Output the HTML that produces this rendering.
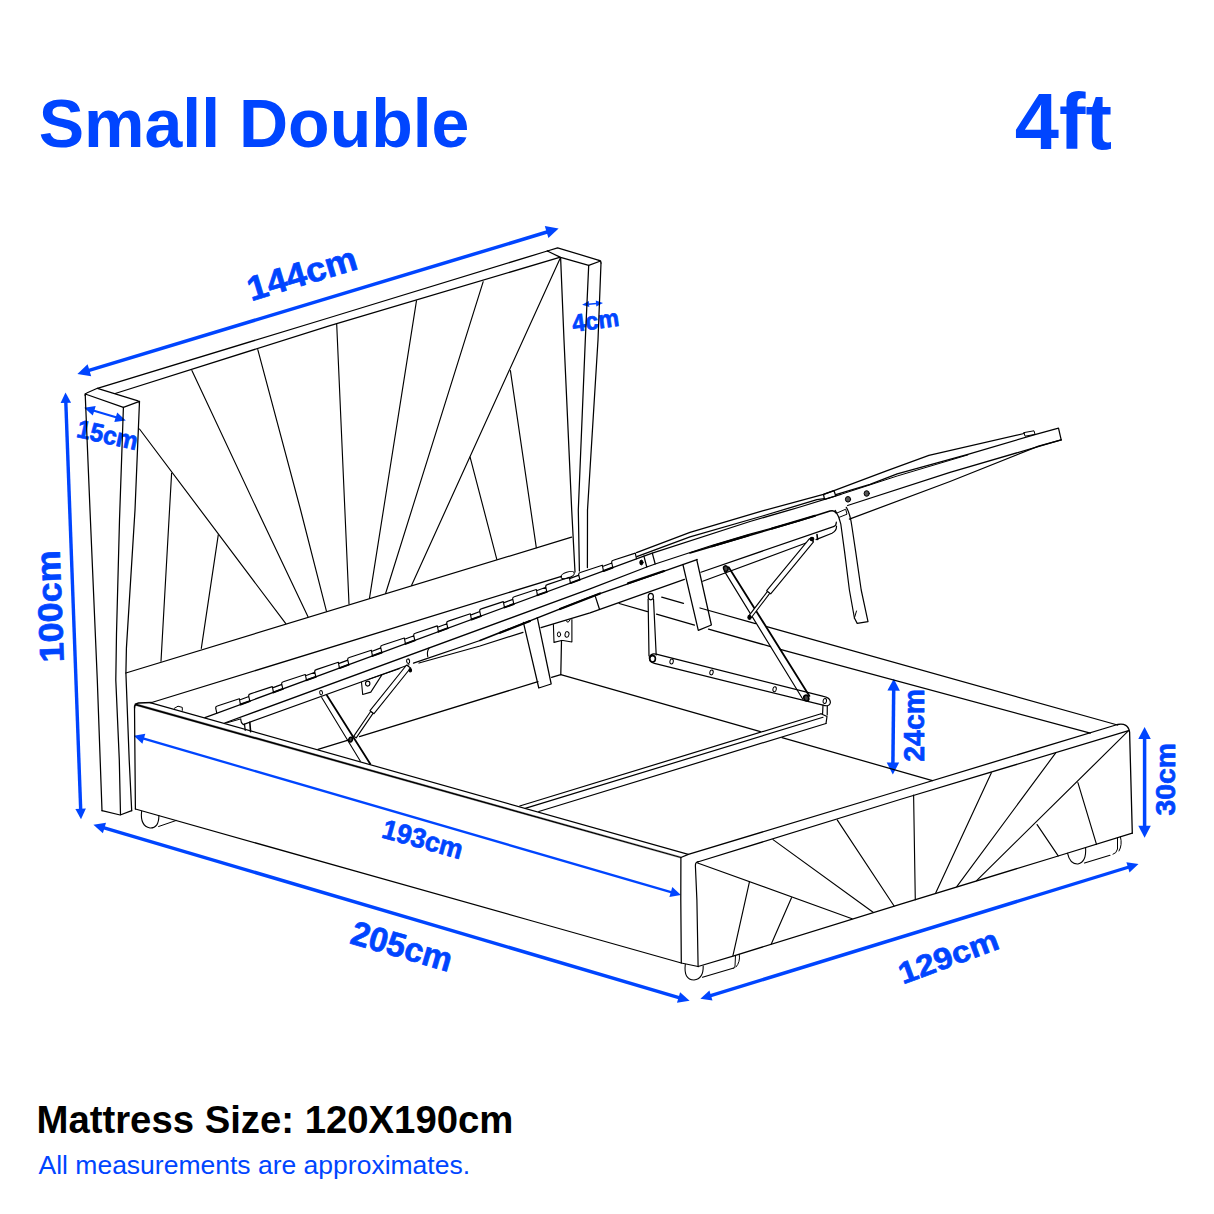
<!DOCTYPE html>
<html><head><meta charset="utf-8"><title>Small Double 4ft</title>
<style>
html,body{margin:0;padding:0;background:#fff;}
body{width:1214px;height:1214px;position:relative;overflow:hidden;font-family:"Liberation Sans",sans-serif;}
.t{position:absolute;white-space:nowrap;line-height:1;margin:0;}
#h1{left:38.7px;top:89px;font-size:68px;font-weight:bold;color:#0045ff;}
#h2{left:1014.8px;top:82.2px;font-size:79.5px;font-weight:bold;color:#0045ff;}
#m1{left:36.5px;top:1101.2px;font-size:38.3px;font-weight:bold;color:#000;}
#m2{left:38.5px;top:1151.8px;font-size:26.5px;color:#0045ff;}
svg{position:absolute;left:0;top:0;}
svg text{font-family:"Liberation Sans",sans-serif;}
</style></head><body>
<div class="t" id="h1">Small Double</div>
<div class="t" id="h2">4ft</div>
<svg width="1214" height="1214" viewBox="0 0 1214 1214">
<g>
<line x1="88.2" y1="370.6" x2="547.8" y2="231.8" stroke="#0045ff" stroke-width="3.5"/>
<polygon points="77.4,373.9 91.2,376.3 87.6,364.3" fill="#0045ff"/>
<polygon points="558.6,228.5 548.4,238.1 544.8,226.1" fill="#0045ff"/>
<line x1="65.8" y1="401.8" x2="80.7" y2="809.9" stroke="#0045ff" stroke-width="3.4"/>
<polygon points="65.5,392.4 60.6,403.1 71.1,402.7" fill="#0045ff"/>
<polygon points="81.0,819.3 75.4,809.0 85.9,808.6" fill="#0045ff"/>
<line x1="93.2" y1="410.5" x2="116.8" y2="417.6" stroke="#0045ff" stroke-width="2.1"/>
<polygon points="84.2,407.7 92.8,415.5 95.7,406.0" fill="#0045ff"/>
<polygon points="125.8,420.4 114.3,422.1 117.2,412.6" fill="#0045ff"/>
<line x1="588.4" y1="304.2" x2="596.7" y2="303.4" stroke="#0045ff" stroke-width="1.5"/>
<polygon points="582.1,304.7 589.3,307.1 588.8,301.1" fill="#0045ff"/>
<polygon points="603.0,302.9 596.3,306.5 595.8,300.5" fill="#0045ff"/>
<line x1="142.9" y1="738.4" x2="671.8" y2="892.4" stroke="#0045ff" stroke-width="2.3"/>
<polygon points="133.8,735.8 142.4,743.8 145.3,733.7" fill="#0045ff"/>
<polygon points="680.9,895.0 669.4,897.1 672.3,887.0" fill="#0045ff"/>
<line x1="103.3" y1="827.6" x2="679.7" y2="997.9" stroke="#0045ff" stroke-width="3.5"/>
<polygon points="93.4,824.7 102.9,833.2 106.0,822.7" fill="#0045ff"/>
<polygon points="689.6,1000.8 677.0,1002.8 680.1,992.3" fill="#0045ff"/>
<line x1="709.9" y1="995.9" x2="1129.0" y2="867.0" stroke="#0045ff" stroke-width="3.4"/>
<polygon points="700.4,998.8 712.5,1000.6 709.4,990.5" fill="#0045ff"/>
<polygon points="1138.5,864.1 1129.5,872.4 1126.4,862.3" fill="#0045ff"/>
<line x1="893.7" y1="689.5" x2="892.9" y2="763.7" stroke="#0045ff" stroke-width="3.5"/>
<polygon points="893.8,678.7 887.4,690.6 899.9,690.8" fill="#0045ff"/>
<polygon points="892.8,774.5 886.7,762.4 899.2,762.6" fill="#0045ff"/>
<line x1="1144.6" y1="737.8" x2="1144.6" y2="826.9" stroke="#0045ff" stroke-width="3.5"/>
<polygon points="1144.6,727.0 1138.3,739.0 1150.8,739.0" fill="#0045ff"/>
<polygon points="1144.6,837.7 1138.3,825.7 1150.8,825.7" fill="#0045ff"/>
<text transform="translate(301.70 273.10) rotate(-16.8) scale(1.054 1)" font-size="34.36" font-weight="bold" text-anchor="middle" y="12.30" fill="#0045ff" stroke="#0045ff" stroke-width="0.7" stroke-linejoin="round">144cm</text>
<text transform="translate(49.50 606.50) rotate(-92) scale(1.054 1)" font-size="34.11" font-weight="bold" text-anchor="middle" y="12.21" fill="#0045ff" stroke="#0045ff" stroke-width="0.7" stroke-linejoin="round">100cm</text>
<text transform="translate(107.60 434.60) rotate(12.5) scale(0.944 1)" font-size="25.60" font-weight="bold" text-anchor="middle" y="9.17" fill="#0045ff" stroke="#0045ff" stroke-width="0.7" stroke-linejoin="round">15cm</text>
<text transform="translate(595.40 320.10) rotate(-7.8) scale(0.960 1)" font-size="24.46" font-weight="bold" text-anchor="middle" y="8.76" fill="#0045ff" stroke="#0045ff" stroke-width="0.7" stroke-linejoin="round">4cm</text>
<text transform="translate(422.90 838.80) rotate(15.5) scale(0.970 1)" font-size="27.35" font-weight="bold" text-anchor="middle" y="9.79" fill="#0045ff" stroke="#0045ff" stroke-width="0.7" stroke-linejoin="round">193cm</text>
<text transform="translate(402.00 945.80) rotate(16.3) scale(0.978 1)" font-size="34.05" font-weight="bold" text-anchor="middle" y="12.19" fill="#0045ff" stroke="#0045ff" stroke-width="0.7" stroke-linejoin="round">205cm</text>
<text transform="translate(948.20 956.10) rotate(-20.3) scale(1.104 1)" font-size="30.34" font-weight="bold" text-anchor="middle" y="10.86" fill="#0045ff" stroke="#0045ff" stroke-width="0.7" stroke-linejoin="round">129cm</text>
<text transform="translate(913.40 725.40) rotate(-90) scale(0.968 1)" font-size="29.30" font-weight="bold" text-anchor="middle" y="10.49" fill="#0045ff" stroke="#0045ff" stroke-width="0.7" stroke-linejoin="round">24cm</text>
<text transform="translate(1165.30 779.20) rotate(-90) scale(0.998 1)" font-size="28.41" font-weight="bold" text-anchor="middle" y="10.17" fill="#0045ff" stroke="#0045ff" stroke-width="0.7" stroke-linejoin="round">30cm</text>
</g>
<g fill="none" stroke="#000" stroke-linecap="round" stroke-linejoin="round">
<path d="M85.2,395.5 Q85.2,393.5 86.7,393 L97.4,388.3 L138.0,400.79999999999995 Q139.5,401.4 139.4,403.4" stroke-width="1.25" />
<path d="M85.2,394.0 L123.4,407.4 L139.5,401.4" stroke-width="1.25" />
<path d="M85.2,394.0 L90.0,510.0 L97.3,680.0 L102.0,810.7" stroke-width="1.25" />
<path d="M123.4,407.4 L119.5,520.0 L116.5,633.6 L115.8,680.0 L119.3,760.0 L120.5,814.6" stroke-width="1.25" />
<path d="M139.5,401.4 L135.0,510.0 L126.4,648.4 L125.9,673.0 L129.2,760.0 L131.7,810.7" stroke-width="1.25" />
<path d="M102.0,810.7 L120.2,815.0 L131.7,810.7" stroke-width="1.25" />
<path d="M97.4,388.3 L330.0,317.5 L547.3,251.0" stroke-width="1.25" />
<path d="M115.2,393.5 L330.0,325.6 L559.6,257.4" stroke-width="1.25" />
<path d="M547.3,251.0 L557.6,247.8 L599.0,260.3" stroke-width="1.25" />
<path d="M599,260.3 Q601.2,261 601,263" stroke-width="1.25" />
<path d="M547.3,251.0 L560.6,257.4 L588.7,265.4 L600.6,261.0" stroke-width="1.25" />
<path d="M560.6,257.4 L564.0,340.0 L571.7,510.0 L575.0,572.0" stroke-width="1.25" />
<path d="M588.7,265.4 L585.3,340.0 L578.3,510.0 L579.4,571.0" stroke-width="1.25" />
<path d="M601.0,263.0 L598.0,340.0 L587.5,510.0 L587.4,567.5" stroke-width="1.25" />
<path d="M125.9,673.0 L571.6,537.2" stroke-width="1.25" />
<path d="M139.5,429.0 L285.8,623.7" stroke-width="1.15" />
<path d="M171.6,473.2 L161.0,661.2" stroke-width="1.15" />
<path d="M218.3,534.7 L201.3,648.4" stroke-width="1.15" />
<path d="M191.9,370.6 L257.3,510.0 L308.0,616.8" stroke-width="1.15" />
<path d="M257.8,349.6 L300.6,510.0 L326.5,611.3" stroke-width="1.15" />
<path d="M336.7,324.2 L349.0,604.0" stroke-width="1.15" />
<path d="M416.5,300.7 L369.5,598.2" stroke-width="1.15" />
<path d="M483.2,281.7 L385.6,593.5" stroke-width="1.15" />
<path d="M560.3,258.0 L411.5,585.4" stroke-width="1.15" />
<path d="M510.4,370.6 L536.3,547.6" stroke-width="1.15" />
<path d="M470.1,457.1 L496.8,559.4" stroke-width="1.15" />
<path d="M134.6,708 Q134.4,704 138.5,703 L151.7,702.5 L561.4,576.3" stroke-width="1.3" />
<ellipse cx="567.6" cy="575.1" rx="7" ry="3" transform="rotate(-18 567.6 575.1)" stroke-width="1.1" fill="none"/>
<path d="M135.3,703.5 L681.2,856.9 L680.8,858.1 L134.8,705.2 Z" fill="#000" stroke-width="0.3"/>
<path d="M150.0,702.6 L688.3,854.4" stroke-width="1.2" />
<path d="M134.5,706.0 L135.4,809.0" stroke-width="1.25" />
<path d="M135.4,809.0 L360.0,872.4 L528.8,920.0 L681.3,963.0 L698.1,966.5" stroke-width="1.25" />
<path d="M680.9,857.5 L680.8,900.0 L681.3,963.0" stroke-width="1.25" />
<path d="M680.9,857.5 L688.3,854.4 L900,790.5 L1117.5,724.5 Q1128,722.5 1129.6,732 L1132.3,833.2" stroke-width="1.3" />
<path d="M697.6,862.0 L900.0,799.5 L1128.6,730.7" stroke-width="1.25" />
<path d="M698.5,861.7 Q695.2,862 695.4,866 L696.9,900 L698.1,966.5" stroke-width="1.2" />
<path d="M698.1,966.5 L734.7,955.6 L900.0,904.3 L1058.2,856.0 L1132.3,833.2" stroke-width="1.25" />
<path d="M913.6,795.0 L915.3,899.7" stroke-width="1.15" />
<path d="M697.6,863.0 L852.1,918.7" stroke-width="1.15" />
<path d="M749.5,881.6 L732.9,955.8" stroke-width="1.15" />
<path d="M791.5,897.7 L771.3,944.0" stroke-width="1.15" />
<path d="M773.0,839.6 L873.1,912.3" stroke-width="1.15" />
<path d="M837.2,819.9 L894.1,906.0" stroke-width="1.15" />
<path d="M991.4,772.7 L935.8,892.8" stroke-width="1.15" />
<path d="M1055.7,752.9 L956.8,886.6" stroke-width="1.15" />
<path d="M1128.6,730.7 L976.6,880.6" stroke-width="1.15" />
<path d="M1037.1,824.6 L1058.2,855.9" stroke-width="1.15" />
<path d="M1077.9,782.6 L1096.5,844.3" stroke-width="1.15" />
<path d="M661.7,597.2 L683.5,603.3" stroke-width="1.25" />
<path d="M700.0,608.0 L755.5,623.6" stroke-width="1.25" />
<path d="M765.8,626.4 L1117.5,725.0" stroke-width="1.25" />
<path d="M619.2,603.5 L647.5,611.7" stroke-width="1.25" />
<path d="M656.5,614.2 L694.5,625.2" stroke-width="1.25" />
<path d="M708.5,629.2 L770.6,646.6" stroke-width="1.25" />
<path d="M780.2,649.4 L1090.3,733.1" stroke-width="1.25" />
<path d="M318.0,749.4 L349.0,739.9" stroke-width="1.25" />
<path d="M359.5,736.6 L538.0,681.6" stroke-width="1.25" />
<path d="M551.6,677.4 L560.8,674.6" stroke-width="1.25" />
<path d="M560.8,674.6 L561.5,640.5" stroke-width="1.25" />
<path d="M560.8,674.6 L760.4,731.6" stroke-width="1.25" />
<path d="M782.0,737.6 L932.4,780.6" stroke-width="1.25" />
<path d="M216.8,713.2 L215.7,708.2 Q215.5,706.4 217.3,706.0 L239.3,698.7 L240.5,704.5 M239.5,700.0 L248.9,696.5 M249.8,701.1 L248.7,696.0 Q248.5,694.2 250.3,693.9 L272.3,686.6 L273.5,692.4 M272.5,687.9 L281.9,684.4 M282.8,688.9 L281.7,683.9 Q281.5,682.1 283.3,681.8 L305.3,674.5 L306.5,680.2 M305.5,675.8 L314.9,672.2 M315.8,676.8 L314.7,671.7 Q314.5,669.9 316.3,669.6 L338.3,662.3 L339.5,668.1 M338.5,663.6 L347.9,660.1 M348.8,664.7 L347.7,659.6 Q347.5,657.8 349.3,657.5 L371.3,650.2 L372.5,655.9 M371.5,651.5 L380.9,647.9 M381.8,652.5 L380.7,647.4 Q380.5,645.6 382.3,645.3 L404.3,638.0 L405.5,643.8 M404.5,639.3 L413.9,635.8 M414.8,640.4 L413.7,635.3 Q413.5,633.5 415.3,633.2 L437.3,625.9 L438.5,631.7 M437.5,627.2 L446.9,623.7 M447.8,628.2 L446.7,623.2 Q446.5,621.4 448.3,621.1 L470.3,613.8 L471.5,619.5 M470.5,615.1 L479.9,611.5 M480.8,616.1 L479.7,611.0 Q479.5,609.2 481.3,608.9 L503.3,601.6 L504.5,607.4 M503.5,602.9 L512.9,599.4 M513.8,604.0 L512.7,598.9 Q512.5,597.1 514.3,596.8 L536.3,589.5 L537.5,595.2 M536.5,590.8 L545.9,587.2 M546.8,591.8 L545.7,586.7 Q545.5,584.9 547.3,584.6 L569.3,577.3 L570.5,583.1 M569.5,578.6 L578.9,575.1 M579.8,579.7 L578.7,574.6 Q578.5,572.8 580.3,572.5 L602.3,565.2 L603.5,571.0 M602.5,566.5 L611.9,563.0 M612.8,567.5 L611.7,562.5 Q611.5,560.7 613.3,560.3 L635.3,553.1 L636.5,558.8 " stroke-width="1.15" />
<path d="M240.5,704.5 L249.8,701.1 M273.5,692.4 L282.8,688.9 M306.5,680.2 L315.8,676.8 M339.5,668.1 L348.8,664.7 M372.5,655.9 L381.8,652.5 M405.5,643.8 L414.8,640.4 M438.5,631.7 L447.8,628.2 M471.5,619.5 L480.8,616.1 M504.5,607.4 L513.8,604.0 M537.5,595.2 L546.8,591.8 M570.5,583.1 L579.8,579.7 M603.5,571.0 L612.8,567.5 " stroke-width="1.9" />
<path d="M174.4,708.3 L178.0,706.2 L182.3,707.4 L182.3,710.4" stroke-width="1" />
<path d="M204.9,717.6 L643.9,556.1" stroke-width="1.25" />
<path d="M224.7,723.0 L590.0,588.9 L646.8,567.0" stroke-width="1.25" />
<path d="M226.6,722.9 L240.8,718.9" stroke-width="1" />
<path d="M240.8,719.3 Q240.6,722.5 243.2,724.6 L409,664.8" stroke-width="1.2" />
<path d="M244.5,724.2 L245.2,730.3" stroke-width="1.25" />
<path d="M249.8,722.4 L250.6,731.8" stroke-width="1.6" />
<path d="M429.2,647.8 Q426.5,652 427.8,656.8" stroke-width="1.1" />
<path d="M413.5,663.2 L480.0,640.5" stroke-width="1.25" />
<path d="M480.0,640.5 L590.0,597.1 L697.0,559.6" stroke-width="1.5" />
<path d="M500.0,632.8 L530.0,621.0" stroke-width="2.1" />
<path d="M560.0,609.1 L600.0,593.4" stroke-width="2.1" />
<path d="M628.0,583.3 L664.0,571.0" stroke-width="2.1" />
<path d="M419.0,663.0 L480.0,646.0 L523.0,632.3" stroke-width="1.25" />
<path d="M541.0,627.6 L590.0,612.9 L684.4,579.3" stroke-width="1.25" />
<path d="M595.4,596.6 L599.4,609.0" stroke-width="1.25" />
<path d="M636.5,552.6 L690.0,532.3 L762.5,510.9 L823.5,494.4 L834.0,490.7 L886.5,470.9 L928.9,455.3 L1024.0,433.5" stroke-width="1.25" />
<path d="M636.8,556.6 L690.0,536.8 L762.5,516.0 L816.9,499.7 L824.3,498.6" stroke-width="1.25" />
<path d="M835.8,494.6 L870.0,484.3 L897.2,473.9 L967.9,454.4 L1034.0,434.8 L1058.5,428.1 L1061.2,439.9" stroke-width="1.25" />
<path d="M840.8,494.4 L897.2,476.0 L967.9,454.9" stroke-width="1" />
<path d="M652.3,553.1 L750.0,521.5 L800.0,507.0 L840.8,494.4" stroke-width="1.25" />
<path d="M643.9,556.1 L652.3,553.1 L655.2,564.0 L646.8,567.0 L643.9,556.1" stroke-width="1.25" />
<ellipse cx="641.4" cy="562.5" rx="1.6" ry="2.4" transform="rotate(0 641.4 562.5)" stroke-width="1" fill="#000"/>
<path d="M655.2,564.0 L710.0,546.0 L750.0,534.2 L800.0,520.5" stroke-width="1.2" />
<path d="M690,553 L800,520.5 L830,511 Q834.5,509.8 836,513" stroke-width="1.5" />
<path d="M712.0,546.3 L748.0,535.6" stroke-width="2.1" />
<path d="M772.0,528.6 L815.0,515.8" stroke-width="2.1" />
<path d="M823.5,494.4 L834.0,490.7 L835.8,496.0 L824.5,499.3 L823.5,494.4" stroke-width="1.25" />
<path d="M1024.0,432.6 L1034.0,430.8 L1035.0,434.4 L1025.0,436.2 L1024.0,432.6" stroke-width="1" />
<path d="M847.6,505.5 L950.0,472.3 L1061.2,439.9" stroke-width="1.25" />
<path d="M849.4,519.1 L950.0,481.5 L1038.5,446.2 L1061.2,439.9" stroke-width="1.25" />
<ellipse cx="848" cy="499.3" rx="2.6" ry="2.8" transform="rotate(0 848 499.3)" stroke-width="1" fill="#555"/>
<ellipse cx="866.7" cy="493.5" rx="2.6" ry="2.8" transform="rotate(0 866.7 493.5)" stroke-width="1" fill="#555"/>
<path d="M700.9,572.2 L833.5,526.6 Q836.5,525.5 836.3,522" stroke-width="1.2" />
<path d="M702.7,581.2 L811.4,541 M816,539.6 L832,533.2 Q836.8,531 836.5,526" stroke-width="1.2" />
<path d="M327.0,695.5 L370.3,764.0" stroke-width="1.8" />
<path d="M321.7,697.5 L360.4,761.3" stroke-width="1.1" />
<ellipse cx="321.1" cy="692.7" rx="1.4" ry="2.2" transform="rotate(-10 321.1 692.7)" stroke-width="1" fill="none"/>
<ellipse cx="350.6" cy="739.6" rx="1.8" ry="2.4" transform="rotate(20 350.6 739.6)" stroke-width="1.6" fill="#444"/>
<path d="M356.2,737.9 L373.2,713.1 L370.8,711.3 L353.8,736.1 Z" stroke-width="1.1" fill="#fff"/>
<path d="M374.0,713.7 L410.6,668.0 L406.6,665.0 L370.0,710.7 Z" stroke-width="1.1" fill="#fff"/>
<ellipse cx="408.1" cy="661.2" rx="1.5" ry="2.3" transform="rotate(-10 408.1 661.2)" stroke-width="1.1" fill="none"/>
<ellipse cx="410.3" cy="670.2" rx="1.2" ry="1.6" transform="rotate(0 410.3 670.2)" stroke-width="1.2" fill="#000"/>
<path d="M361.5,682.2 L362.7,694.5 L370.8,692.1 L381.9,674.9" stroke-width="1.1" />
<ellipse cx="367.7" cy="683.6" rx="2.2" ry="2.5" transform="rotate(0 367.7 683.6)" stroke-width="1.1" fill="none"/>
<path d="M369.5,679.1 L399.8,668.6" stroke-width="1" />
<path d="M523.4,622.3 L538.8,688.0 L551.2,684.0 L537.3,617.7" stroke-width="1.25" />
<path d="M553.4,624.5 L554.0,642.4 L561.5,640.5 L563.0,640.5 L571.9,642.0 L571.9,619.6" stroke-width="1.1" />
<ellipse cx="559" cy="634.4" rx="1.6" ry="2.5" transform="rotate(0 559 634.4)" stroke-width="1" fill="none"/>
<ellipse cx="567" cy="634.4" rx="2" ry="2.8" transform="rotate(10 567 634.4)" stroke-width="1" fill="none"/>
<path d="M566,620.5 Q568,624.5 570,619.8" stroke-width="1" />
<path d="M648.1,599.0 L649.0,656.0" stroke-width="1.2" />
<path d="M653.5,599.0 L656.2,655.0" stroke-width="1.2" />
<ellipse cx="650.8" cy="596.6" rx="2.6" ry="3.2" transform="rotate(0 650.8 596.6)" stroke-width="1.2" fill="none"/>
<ellipse cx="652.6" cy="658.8" rx="2.8" ry="3.2" transform="rotate(0 652.6 658.8)" stroke-width="1.6" fill="none"/>
<path d="M656.2,654.2 L823.5,696.3 Q831,697.8 830.3,703 Q829.5,707 823,705.2 L654.4,663.4 Q648.5,661.5 649.5,657 Q651,652.8 656.2,654.2" stroke-width="1.2" />
<ellipse cx="671.6" cy="661.5" rx="1.7" ry="2.5" transform="rotate(10 671.6 661.5)" stroke-width="1" fill="none"/>
<ellipse cx="711.5" cy="672.4" rx="1.7" ry="2.5" transform="rotate(10 711.5 672.4)" stroke-width="1" fill="none"/>
<ellipse cx="774.6" cy="689.2" rx="1.7" ry="2.5" transform="rotate(10 774.6 689.2)" stroke-width="1" fill="none"/>
<ellipse cx="824.8" cy="701" rx="1.7" ry="2.5" transform="rotate(10 824.8 701)" stroke-width="1" fill="none"/>
<path d="M724.2,570.9 L803.0,699.5" stroke-width="1.15" />
<path d="M728.7,567.2 L809.4,695.9" stroke-width="1.8" />
<ellipse cx="725.8" cy="568.6" rx="2.2" ry="2.8" transform="rotate(-20 725.8 568.6)" stroke-width="1.4" fill="#444"/>
<ellipse cx="806.3" cy="698" rx="2.4" ry="3" transform="rotate(-20 806.3 698)" stroke-width="1.6" fill="#444"/>
<path d="M751.4,617.5 L769.9,593.2 L767.5,591.4 L749.0,615.7 Z" stroke-width="1.1" fill="#fff"/>
<path d="M770.7,593.9 L813.5,541.8 L809.5,538.6 L766.7,590.7 Z" stroke-width="1.1" fill="#fff"/>
<ellipse cx="749.5" cy="617.3" rx="1.6" ry="2" transform="rotate(0 749.5 617.3)" stroke-width="1.2" fill="#000"/>
<ellipse cx="812" cy="539" rx="1.8" ry="1.6" transform="rotate(0 812 539)" stroke-width="1.2" fill="#000"/>
<path d="M817.0,534.5 L817.6,539.5" stroke-width="1.6" />
<path d="M682.9,564.5 L698.3,630.4 L711.4,625.0 L696.7,559.5" stroke-width="1.25" />
<path d="M835.2,510.4 Q839.5,517 840.8,524 L844.5,551.2 L849.4,590 L854.4,618 L857.2,623.4 L868,621.6 L861.2,590 L855.6,551.2 L851.9,526.5 Q850,513 846.3,507.3" stroke-width="1.2" />
<path d="M854.4,618.0 L856.5,611.0" stroke-width="1" />
<path d="M837.0,513.0 L845.7,509.2 L847.0,514.2 L839.5,517.2" stroke-width="1" />
<path d="M519.7,806.0 L821.0,713.8" stroke-width="1.2" />
<path d="M525.2,808.4 L823.0,717.3" stroke-width="1.2" />
<path d="M538.8,811.5 L826.0,723.5" stroke-width="1.2" />
<path d="M826.0,723.5 L827.0,716.5 L821.0,713.8" stroke-width="1.2" />
<path d="M823.0,705.2 L822.6,713.5" stroke-width="1.2" />
<path d="M827.3,706.0 L827.2,715.0" stroke-width="1.2" />
<path d="M141.6,811.3 Q140,826 150,828 Q158.8,828.5 158.9,815.5" stroke-width="1.1" />
<path d="M158.6,826.5 L176.1,820.5" stroke-width="1" />
<path d="M685.3,964.3 Q683.5,980 694,980 Q703.5,979 703.2,966" stroke-width="1.1" />
<path d="M702.5,977.3 L733.8,968.0" stroke-width="1.1" />
<path d="M735.5,955.6 L735,966 Q735,968 733.5,968.3 M739.3,954.5 Q740.5,962 736,967" stroke-width="1" />
<path d="M1067.5,853.2 Q1070,864.5 1078,864 Q1086.5,862 1085.6,848" stroke-width="1.1" />
<path d="M1084.5,863.0 L1110.0,855.3" stroke-width="1.1" />
<path d="M1117.5,838 L1117.5,849 Q1116.5,853.5 1113,854.3 M1120.5,837 Q1122.5,845 1119,851" stroke-width="1" />
</g>
</svg>
<div class="t" id="m1">Mattress Size: 120X190cm</div>
<div class="t" id="m2">All measurements are approximates.</div>
</body></html>
